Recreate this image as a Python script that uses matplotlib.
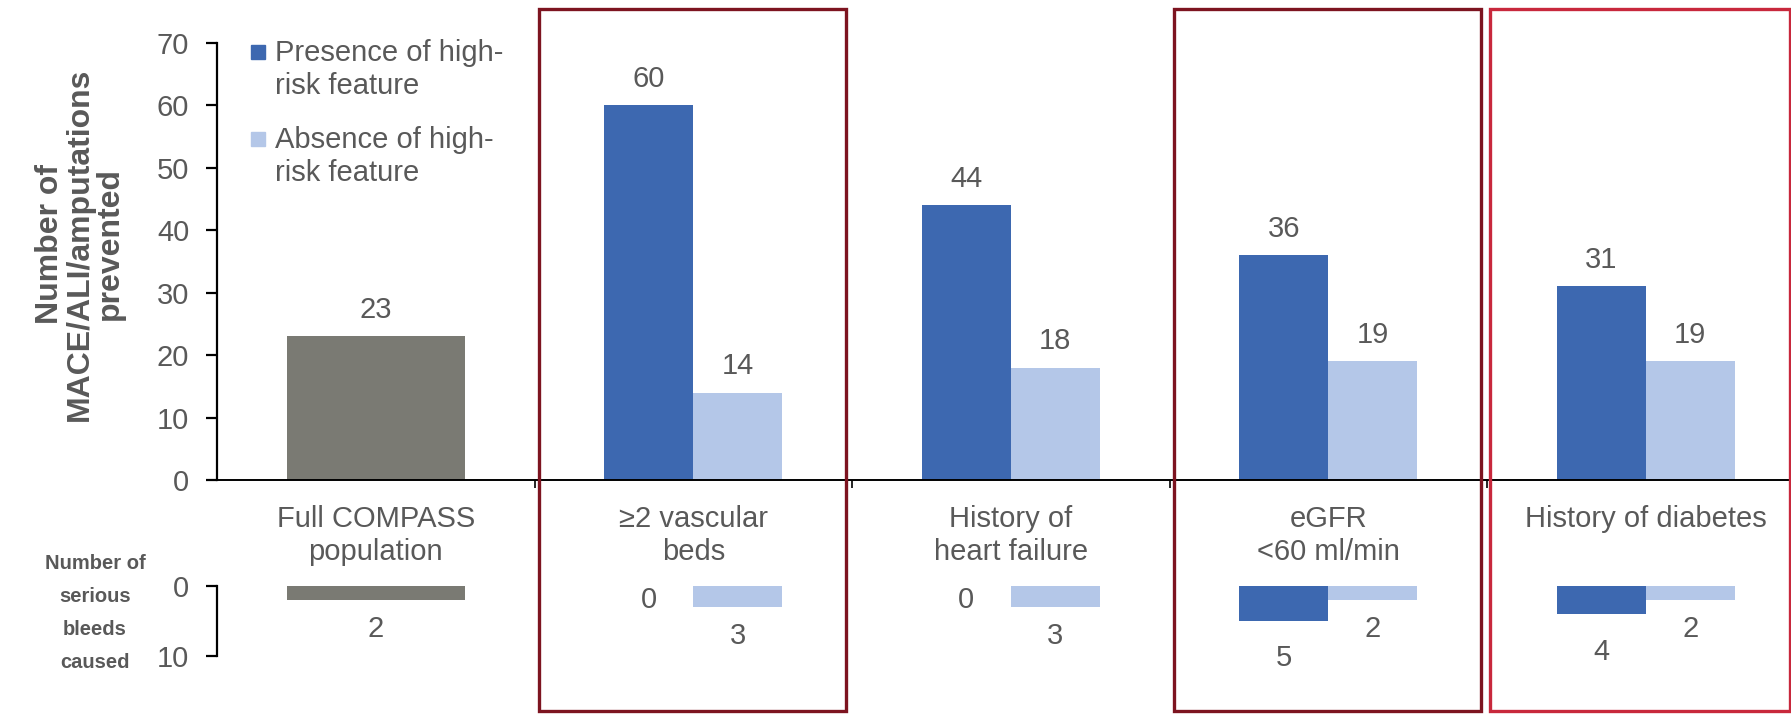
import matplotlib.pyplot as plt
import matplotlib.transforms as mtransforms
from matplotlib.patches import Rectangle
import numpy as np

plt.rcParams['font.family'] = ['Liberation Sans', 'DejaVu Sans']

# Subgroups along the x axis
categories = ["Full COMPASS\npopulation", "\u22652 vascular\nbeds", "History of\nheart failure",
              "eGFR\n<60 ml/min", "History of diabetes"]

# MACE/ALI/amputations prevented
prevented_full = 23
prevented_present = [60, 44, 36, 31]
prevented_absent = [14, 18, 19, 19]

# Serious bleeds caused
bleeds_full = 2
bleeds_present = [0, 0, 5, 4]
bleeds_absent = [3, 3, 2, 2]

highlighted = [1, 3, 4]   # subgroups framed in red

BLUE = "#3d68b0"
LIGHT = "#b4c7e8"
GREY = "#7a7a73"
TEXT = "#595959"

fig = plt.figure(figsize=(17.91, 7.14), dpi=100)
W, H = 1791, 714

x = np.arange(len(categories))
bw = 0.28
xlim = (-0.5, len(categories) - 0.5)
ax_left = 217 / W
ax_width = 1587.5 / W

# ---- upper panel: events prevented ----
ax = fig.add_axes([ax_left, 1 - 480 / H, ax_width, (480 - 43) / H])
ax.bar(x[0], prevented_full, width=2 * bw, color=GREY)
ax.bar(x[1:] - bw / 2, prevented_present, width=bw, color=BLUE)
ax.bar(x[1:] + bw / 2, prevented_absent, width=bw, color=LIGHT)


def top_label(xpos, v):
    ax.annotate(str(v), (xpos, v), xytext=(0, 9), textcoords="offset points",
                ha="center", va="bottom", fontsize=21, color=TEXT)


top_label(x[0], prevented_full)
for xi, vp, va_ in zip(x[1:], prevented_present, prevented_absent):
    top_label(xi - bw / 2, vp)
    top_label(xi + bw / 2, va_)

ax.set_xlim(*xlim)
ax.set_ylim(0, 70)
ax.set_yticks(range(0, 71, 10))
ax.set_xticks(x)
ax.set_xticklabels(categories, fontsize=21, color=TEXT, linespacing=1.25)
ax.set_xticks(x[:-1] + 0.5, minor=True)
ax.tick_params(axis="x", which="major", length=0, pad=18)
ax.tick_params(axis="x", which="minor", length=6, width=1.2, direction="out")
ax.tick_params(axis="y", length=8, width=1.6, direction="out", pad=12, labelsize=21, labelcolor=TEXT)
for side in ("top", "right"):
    ax.spines[side].set_visible(False)
ax.spines["left"].set_linewidth(1.6)
ax.spines["bottom"].set_linewidth(1.4)

fig.text(80 / W, 1 - 244 / H, "Number of\nMACE/ALI/amputations\nprevented", rotation=90,
         ha="center", va="center", multialignment="center", fontsize=23, fontweight="bold",
         color=TEXT, linespacing=1.0)

# legend drawn by hand so the swatch sits on the first text line
for (ty, col, label) in [(52, BLUE, "Presence of high-\nrisk feature"),
                         (139, LIGHT, "Absence of high-\nrisk feature")]:
    fig.patches.append(Rectangle((251 / W, 1 - (ty + 7) / H), 14 / W, 14 / H,
                                 transform=fig.transFigure, color=col))
    fig.text(275 / W, 1 - (ty - 13) / H, label, ha="left", va="top", fontsize=21,
             color=TEXT, linespacing=1.22)

# ---- lower panel: bleeds caused ----
ax2 = fig.add_axes([ax_left, 1 - 656 / H, ax_width, 70 / H])
ax2.bar(x[0], bleeds_full, width=2 * bw, color=GREY)
ax2.bar(x[1:] - bw / 2, bleeds_present, width=bw, color=BLUE)
ax2.bar(x[1:] + bw / 2, bleeds_absent, width=bw, color=LIGHT)


def bleed_label(xpos, v, off):
    if v == 0:
        off = 10
    ax2.annotate(str(v), (xpos, v), xytext=(0, -off), textcoords="offset points",
                 ha="center", va="center", fontsize=21, color=TEXT, annotation_clip=False)


bleed_label(x[0], bleeds_full, 21)
for xi, vp, va_ in zip(x[1:], bleeds_present, bleeds_absent):
    bleed_label(xi - bw / 2, vp, 27)
    bleed_label(xi + bw / 2, va_, 21)

ax2.set_xlim(*xlim)
ax2.set_ylim(10, 0)
ax2.set_yticks([0, 10])
ax2.set_xticks([])
ax2.tick_params(axis="y", length=8, width=1.6, direction="out", pad=12, labelsize=21, labelcolor=TEXT)
for side in ("top", "right", "bottom"):
    ax2.spines[side].set_visible(False)
ax2.spines["left"].set_linewidth(1.6)
ax2.patch.set_alpha(0)

fig.text(95 / W, 1 - 613 / H, "Number of\nserious\nbleeds\ncaused", ha="center", va="center",
         multialignment="center", fontsize=14.5, fontweight="bold", color=TEXT, linespacing=1.95)

# red frames around the highlighted subgroups
trans = mtransforms.blended_transform_factory(ax.transData, fig.transFigure)
for i in highlighted:
    last = i == len(categories) - 1
    col = "#c8283c" if last else "#7d1420"
    x0 = i - 0.492 if last else i - 0.485
    x1 = i + 0.455 if last else i + 0.48
    fig.patches.append(Rectangle((x0, 3 / H), x1 - x0, 1 - 12 / H, transform=trans,
                                 fill=False, edgecolor=col, linewidth=2.4))

fig.savefig("out.png", dpi=100, facecolor="white")
